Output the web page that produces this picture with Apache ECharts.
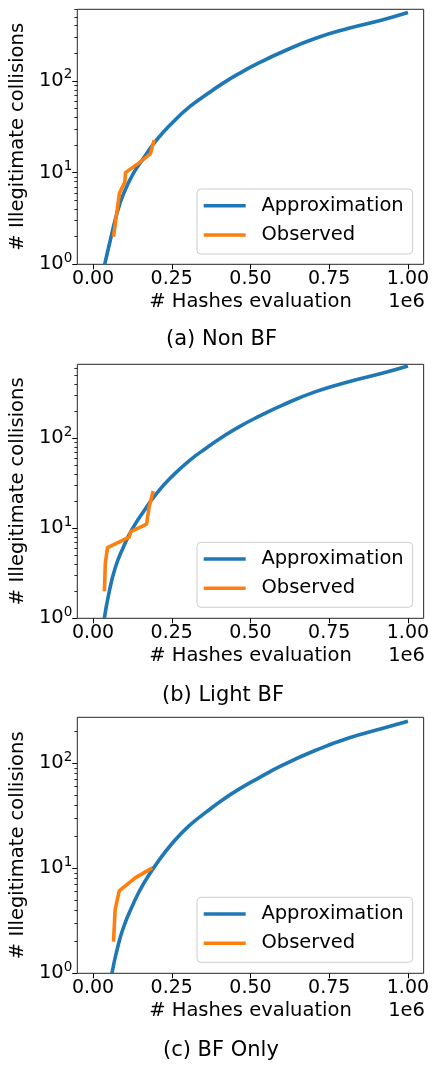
<!DOCTYPE html>
<html>
<head>
<meta charset="utf-8">
<script src="https://cdn.jsdelivr.net/npm/echarts@6/dist/echarts.min.js"></script>
<style>
  html, body { margin: 0; padding: 0; background: #fff; }
  #chart { width: 432px; height: 1066px; }
</style>
</head>
<body>
<div id="chart"></div>
<script>
  // x in number of hashes, y in number of collisions
  const seriesNames = ['Approximation', 'Observed'];
  const xTicks = [0, 250000, 500000, 750000, 1000000];
  const yMajorTicks = [1, 10, 100];
  const yMinorTicks = [2, 3, 4, 5, 6, 7, 8, 9, 20, 30, 40, 50, 60, 70, 80, 90, 200, 300, 400, 500, 600, 700, 800, 900];

  // (a) Non BF
  const nonBfApproxX = [37000, 55000, 76000, 97000, 128000, 160000, 202000, 255000, 307000, 360000, 412000, 465000, 528000, 602000, 707000, 812000, 918000, 1000000];
  const nonBfApproxY = [1.0, 1.84, 3.6, 5.9, 9.8, 14.3, 22.7, 35.9, 52.3, 71, 94, 121, 158, 208, 292, 375, 462, 557];
  const nonBfObsX = [65000, 84000, 101000, 103000, 144000, 182000, 194000];
  const nonBfObsY = [2, 6, 7.9, 10, 12.6, 16, 22.6];

  // (b) Light BF
  const lightBfApproxX = [36000, 49000, 70000, 97000, 123000, 160000, 202000, 255000, 307000, 360000, 412000, 465000, 528000, 602000, 707000, 812000, 918000, 1000000];
  const lightBfApproxY = [1.0, 1.8, 3.6, 6.25, 9.6, 15.3, 24.5, 39, 57, 78, 104, 135, 176, 234, 330, 425, 527, 635];
  const lightBfObsX = [36000, 39000, 46000, 115000, 120000, 170000, 178000, 191000];
  const lightBfObsY = [2, 4.1, 6.1, 8, 9.2, 11.1, 17.2, 26];

  // (c) BF Only
  const bfOnlyApproxX = [60000, 76000, 97000, 128000, 160000, 202000, 255000, 307000, 360000, 412000, 465000, 528000, 602000, 707000, 812000, 918000, 1000000];
  const bfOnlyApproxY = [1.0, 1.66, 2.76, 4.6, 7.1, 11.1, 17.8, 25.7, 34.4, 45, 57, 73, 96, 133, 174, 214, 251];
  const bfOnlyObsX = [65000, 70000, 83000, 134000, 188000];
  const bfOnlyObsY = [2, 4, 6.1, 8.1, 10.1];

  const captions = ['(a) Non BF', '(b) Light BF', '(c) BF Only'];

  function zip(xs, ys) {
    return xs.map((x, i) => [x, ys[i]]);
  }

  const panels = [
    { top: 9.3, height: 255, ymax: 604, legendTop: 189, capX: 166, capY: 341, approx: zip(nonBfApproxX, nonBfApproxY), obs: zip(nonBfObsX, nonBfObsY) },
    { top: 364.3, height: 254, ymax: 664, legendTop: 542.3, capX: 162, capY: 697, approx: zip(lightBfApproxX, lightBfApproxY), obs: zip(lightBfObsX, lightBfObsY) },
    { top: 717.3, height: 256, ymax: 274, legendTop: 897.3, capX: 163, capY: 1052, approx: zip(bfOnlyApproxX, bfOnlyApproxY), obs: zip(bfOnlyObsX, bfOnlyObsY) }
  ];

  const font = 'DejaVu Sans';
  const blue = '#1f77b4';
  const orange = '#ff7f0e';

  const grid = [], xAxis = [], yAxis = [], series = [], legend = [], graphic = [];

  panels.forEach((p, i) => {
    grid.push({
      left: 76, top: p.top, width: 349, height: p.height,
      show: true, borderColor: '#262626', borderWidth: 1, backgroundColor: 'transparent'
    });

    xAxis.push({
      type: 'value', gridIndex: i, min: -50000, max: 1050000,
      splitLine: { show: false },
      axisLine: { show: false, onZero: false },
      axisTick: { customValues: xTicks, length: 5, lineStyle: { color: '#000', width: 1 } },
      axisLabel: {
        customValues: xTicks, margin: 5, fontSize: 19, fontFamily: font, color: '#000',
        formatter: v => (v / 1e6).toFixed(2)
      },
      name: '# Hashes evaluation', nameLocation: 'middle', nameGap: 28,
      nameTextStyle: { fontSize: 19.5, fontFamily: font, color: '#000' }
    });

    // major ticks + labels
    yAxis.push({
      type: 'log', logBase: 10, gridIndex: i, min: 1, max: p.ymax, position: 'left',
      splitLine: { show: false },
      axisLine: { show: false, onZero: false },
      axisTick: { customValues: yMajorTicks, length: 5, lineStyle: { color: '#000', width: 1 } },
      axisLabel: {
        customValues: yMajorTicks, margin: 5, color: '#000',
        formatter: v => '{b|10}{s|' + Math.round(Math.log10(v)) + '}',
        rich: {
          b: { fontSize: 19.5, fontFamily: font, color: '#000', lineHeight: 26 },
          s: { fontSize: 13.5, fontFamily: font, color: '#000', verticalAlign: 'top', lineHeight: 16 }
        }
      },
      name: '# Illegitimate collisions', nameLocation: 'middle', nameGap: 36,
      nameTextStyle: { fontSize: 19.5, fontFamily: font, color: '#000' }
    });
    // minor ticks
    yAxis.push({
      type: 'log', logBase: 10, gridIndex: i, min: 1, max: p.ymax, position: 'left',
      splitLine: { show: false },
      axisLine: { show: false, onZero: false },
      axisLabel: { show: false },
      axisTick: { customValues: yMinorTicks.filter(v => v < p.ymax), length: 3, lineStyle: { color: '#000', width: 0.8 } }
    });

    series.push({
      name: seriesNames[0], type: 'line', xAxisIndex: i, yAxisIndex: 2 * i,
      data: p.approx, showSymbol: false, symbol: 'none', smooth: 0.5,
      color: blue, lineStyle: { color: blue, width: 3.6 }, silent: true, clip: true
    });
    series.push({
      name: seriesNames[1], type: 'line', xAxisIndex: i, yAxisIndex: 2 * i,
      data: p.obs, showSymbol: false, symbol: 'none',
      color: orange, lineStyle: { color: orange, width: 3.6 }, silent: true, clip: true
    });

    legend.push({
      data: seriesNames, orient: 'vertical', left: 197, top: p.legendTop,
      icon: 'rect', itemWidth: 42, itemHeight: 3.6, itemGap: 9.3,
      padding: [6.7, 9, 9, 6.7],
      backgroundColor: 'rgba(255,255,255,0.8)', borderColor: '#cccccc', borderWidth: 1, borderRadius: 4,
      textStyle: { fontSize: 19.5, fontFamily: font, color: '#000', lineHeight: 20, padding: [0, 0, 0, 10.7] },
      selectedMode: false
    });

    graphic.push({
      type: 'text', right: 7, top: p.top + p.height + 28,
      style: { text: '1e6', fontSize: 19.5, fontFamily: font, fill: '#000' }
    });
    graphic.push({
      type: 'text', left: p.capX, top: p.capY - 12,
      style: { text: captions[i], fontSize: 21, fontFamily: font, fill: '#000' }
    });
  });

  const chart = echarts.init(document.getElementById('chart'), null, { renderer: 'canvas' });
  chart.setOption({
    animation: false,
    grid, xAxis, yAxis, series, legend, graphic
  });
</script>
</body>
</html>
